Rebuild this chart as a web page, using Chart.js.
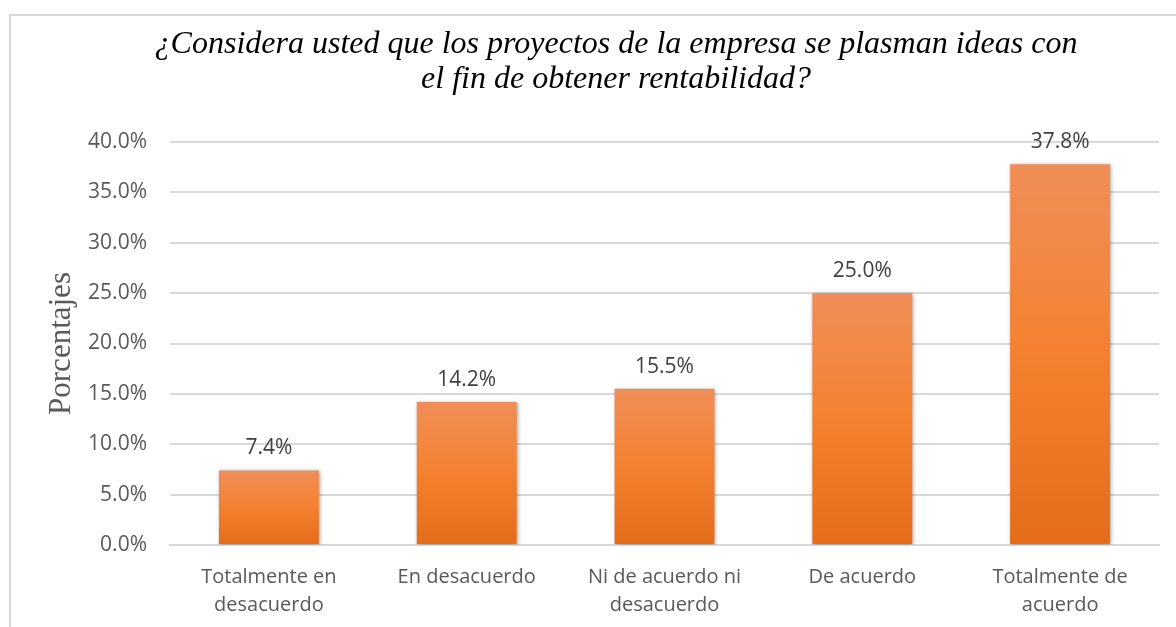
<!DOCTYPE html>
<html>
<head>
<meta charset="utf-8">
<script src="https://cdn.jsdelivr.net/npm/chart.js@4/dist/chart.umd.min.js"></script>
<style>
  html, body { margin: 0; padding: 0; background: #fff; overflow: hidden; }
  #wrap { position: relative; width: 1176px; height: 627px; }
</style>
</head>
<body>
<div id="wrap"><canvas id="myChart" width="1176" height="627"></canvas></div>
<script>
/* global Chart */

// data
const categories = [
  ['Totalmente en', 'desacuerdo'],
  'En desacuerdo',
  ['Ni de acuerdo ni', 'desacuerdo'],
  'De acuerdo',
  ['Totalmente de', 'acuerdo']
];
const percentages = [7.4, 14.2, 15.5, 25.0, 37.8];
const yTicks = [0, 5, 10, 15, 20, 25, 30, 35, 40];

const titleLines = [
  '¿Considera usted que los proyectos de la empresa se plasman ideas con',
  'el fin de obtener rentabilidad?'
];
const yTitle = 'Porcentajes';

const sansFont = '"Open Sans", "Liberation Sans", sans-serif';
const serifFont = '"Liberation Serif", "DejaVu Serif", serif';

// frame around the chart, open on the right and bottom like the screenshot
const framePlugin = {
  id: 'frame',
  beforeDraw: function (chart) {
    const ctx = chart.ctx;
    ctx.save();
    ctx.strokeStyle = '#d9d9d9';
    ctx.lineWidth = 2;
    ctx.beginPath();
    ctx.moveTo(10, chart.height + 5);
    ctx.lineTo(10, 15);
    ctx.lineTo(chart.width + 5, 15);
    ctx.stroke();
    ctx.restore();
  }
};

// title drawn by hand so it can sit off-centre like the original
const titlePlugin = {
  id: 'bigTitle',
  afterDraw: function (chart) {
    const ctx = chart.ctx;
    ctx.save();
    ctx.font = 'italic 32px ' + serifFont;
    ctx.fillStyle = '#000';
    ctx.textAlign = 'center';
    ctx.textBaseline = 'middle';
    titleLines.forEach(function (line, i) {
      ctx.fillText(line, 616, 45 + i * 35);
    });
    ctx.restore();
  }
};

// per-bar vertical gradient + soft shadow
const barStyle = {
  id: 'barStyle',
  beforeDatasetDraw: function (chart, args) {
    const ctx = chart.ctx;
    args.meta.data.forEach(function (el) {
      const g = ctx.createLinearGradient(0, el.y, 0, el.base);
      g.addColorStop(0, '#F08E58');
      g.addColorStop(0.5, '#F4812F');
      g.addColorStop(1, '#E46C1B');
      el.options.backgroundColor = g;
    });
    ctx.save();
    ctx.shadowColor = 'rgba(0,0,0,0.35)';
    ctx.shadowBlur = 4;
    ctx.shadowOffsetX = 1;
    ctx.shadowOffsetY = 1;
  },
  afterDatasetDraw: function (chart) {
    chart.ctx.restore();
  }
};

const valueLabels = {
  id: 'valueLabels',
  afterDatasetsDraw: function (chart) {
    const ctx = chart.ctx;
    const meta = chart.getDatasetMeta(0);
    ctx.save();
    ctx.font = '21px ' + sansFont;
    ctx.fillStyle = '#404040';
    ctx.textAlign = 'center';
    ctx.textBaseline = 'middle';
    meta.data.forEach(function (bar, i) {
      ctx.fillText(percentages[i].toFixed(1) + '%', bar.x, bar.y - 22);
    });
    ctx.restore();
  }
};

new Chart(document.getElementById('myChart').getContext('2d'), {
  type: 'bar',
  data: {
    labels: categories,
    datasets: [{
      data: percentages,
      // scriptable so every bar gets its own options object
      backgroundColor: function () { return '#F07F2E'; },
      borderWidth: 0,
      categoryPercentage: 1,
      barPercentage: 0.505
    }]
  },
  options: {
    responsive: false,
    animation: false,
    events: [],
    layout: { padding: { top: 142, right: 17, bottom: 0, left: 0 } },
    plugins: {
      legend: { display: false },
      title: { display: false },
      tooltip: { enabled: false }
    },
    scales: {
      x: {
        grid: { display: false, drawTicks: false },
        border: { display: true, color: '#d9d9d9', width: 2 },
        ticks: {
          color: '#595959',
          font: { family: sansFont, size: 20, lineHeight: 1.4 },
          padding: 18,
          maxRotation: 0,
          autoSkip: false
        },
        afterFit: function (scale) { scale.height = 82; }
      },
      y: {
        min: 0,
        max: 40,
        afterBuildTicks: function (scale) {
          scale.ticks = yTicks.map(function (v) { return { value: v }; });
        },
        grid: { color: '#d9d9d9', lineWidth: 2, drawTicks: false },
        border: { display: false },
        ticks: {
          color: '#595959',
          font: { family: sansFont, size: 21 },
          padding: 23,
          callback: function (v) { return v.toFixed(1) + '%'; }
        },
        title: {
          display: true,
          text: yTitle,
          color: '#595959',
          font: { family: serifFont, size: 31, lineHeight: 1.2 },
          padding: { top: 43, bottom: 0 }
        },
        afterFit: function (scale) { scale.width = 170; }
      }
    }
  },
  plugins: [framePlugin, barStyle, valueLabels, titlePlugin]
});
</script>
</body>
</html>
